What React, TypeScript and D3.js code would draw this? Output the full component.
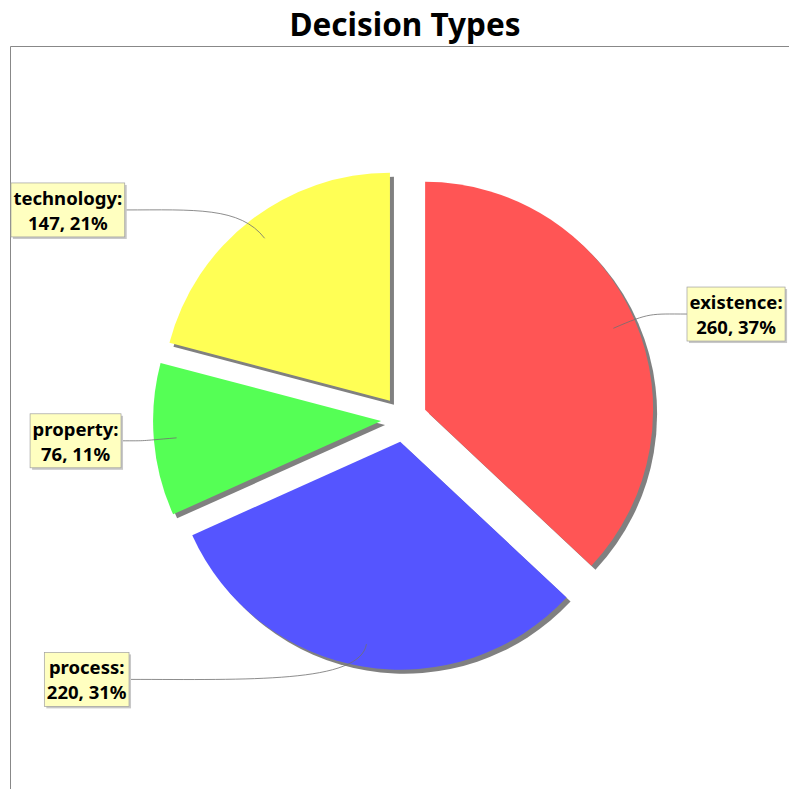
import * as d3 from "d3";
import { useEffect, useRef } from "react";

// chart data
const categories = ["existence", "process", "property", "technology"];
const counts = [260, 220, 76, 147];
const sliceColors = ["#ff5555", "#5555ff", "#55ff55", "#ffff55"];
const chartTitle = "Decision Types";

const W = 789;
const H = 789;

const redraw = (svgEl: SVGSVGElement) => {
  const svg = d3.select(svgEl);
  svg.selectAll("*").remove();

  const cx = 404, cy = 419;
  const radius = 228;
  const explode = 23;
  const shadowOff = 4;
  const linkPct = 0.9;
  const labelRadius = 264;
  const font = "'Noto Sans', sans-serif";

  svg.append("rect").attr("width", W).attr("height", H).attr("fill", "#fff");

  // plot outline (only top + left are inside the picture)
  svg.append("path")
    .attr("d", `M10.5,${H} V46.5 H${W}`)
    .attr("fill", "none")
    .attr("stroke", "#888")
    .attr("stroke-width", 1);

  svg.append("text")
    .attr("x", 405)
    .attr("y", 36)
    .attr("text-anchor", "middle")
    .attr("font-family", font)
    .attr("font-weight", "bold")
    .attr("font-size", 31.5)
    .attr("fill", "#000")
    .text(chartTitle);

  const total = d3.sum(counts);
  const pct = d3.format(".0%");
  const arcs = d3.pie<number>().sort(null).value(d => d)(counts);
  const arc = d3.arc<d3.PieArcDatum<number>>().innerRadius(0).outerRadius(radius);

  // centre of each exploded slice + its direction
  const info = arcs.map((a) => {
    const mid = (a.startAngle + a.endAngle) / 2;
    const dx = Math.sin(mid), dy = -Math.cos(mid);
    return { a, mid, dx, dy, sx: cx + dx * explode, sy: cy + dy * explode };
  });

  // shadows first
  svg.append("g").selectAll("path.shadow")
    .data(info)
    .join("path")
    .attr("class", "shadow")
    .attr("transform", d => `translate(${d.sx + shadowOff},${d.sy + shadowOff})`)
    .attr("d", d => arc(d.a))
    .attr("fill", "#808080");

  svg.append("g").selectAll("path.slice")
    .data(info)
    .join("path")
    .attr("class", "slice")
    .attr("transform", d => `translate(${d.sx},${d.sy})`)
    .attr("d", d => arc(d.a))
    .attr("fill", (d, i) => sliceColors[i]);

  // labels
  const linkG = svg.append("g");
  const labelG = svg.append("g");

  info.forEach((d, i) => {
    const lines = [`${categories[i]}:`, `${counts[i]}, ${pct(counts[i] / total)}`];
    const g = labelG.append("g");
    const shadow = g.append("rect").attr("fill", "#c8c8c8");
    const box = g.append("rect").attr("fill", "#ffffc0").attr("stroke", "#a0a0a0").attr("stroke-width", 0.7);
    const texts = lines.map((t) =>
      g.append("text")
        .attr("text-anchor", "middle")
        .attr("font-family", font)
        .attr("font-weight", "bold")
        .attr("font-size", 18.5)
        .attr("fill", "#000")
        .text(t)
    );
    const tw = d3.max(texts, t => (t.node() as SVGTextElement).getComputedTextLength()) || 0;
    const bw = tw + 5;
    const bh = 54;
    const left = d.dx < 0;
    const ly = cy + d.dy * labelRadius;
    const bx = left ? 130.6 - 9.6 * Math.abs(d.dx) - bw : 687;
    const by = ly - bh / 2;

    shadow.attr("x", bx + 2).attr("y", by + 2).attr("width", bw).attr("height", bh);
    box.attr("x", bx).attr("y", by).attr("width", bw).attr("height", bh);
    texts[0].attr("x", bx + bw / 2).attr("y", by + 22);
    texts[1].attr("x", bx + bw / 2).attr("y", by + 47);

    const tx = left ? bx + bw : bx;
    const ax = d.sx + d.dx * radius * linkPct;
    const ay = d.sy + d.dy * radius * linkPct;
    const path = d3.path();
    path.moveTo(tx, ly);
    path.bezierCurveTo(tx + (ax - tx) * 0.5, ly, ax + d.dx * 40, ay + d.dy * 40, ax, ay);
    linkG.append("path")
      .attr("d", path.toString())
      .attr("fill", "none")
      .attr("stroke", "#707070")
      .attr("stroke-width", 0.8);
  });
  // links sit above slices but under the boxes
  linkG.raise();
  labelG.raise();
};

export default function App() {
  const ref = useRef<SVGSVGElement>(null);
  useEffect(() => {
    if (ref.current) redraw(ref.current);
  }, []);
  return (
    <svg
      ref={ref}
      width={W}
      height={H}
      style={{ position: "absolute", left: 0, top: 0, display: "block" }}
    />
  );
}
